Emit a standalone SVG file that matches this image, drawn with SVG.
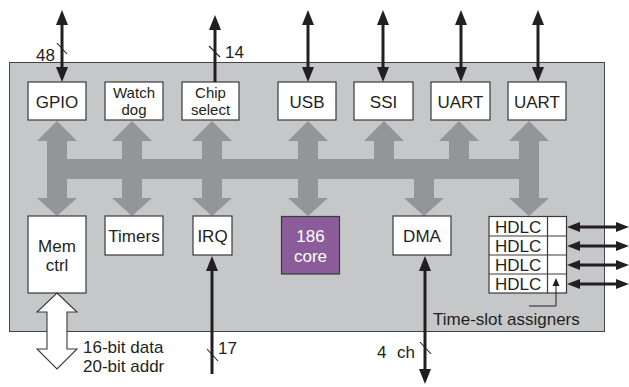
<svg xmlns="http://www.w3.org/2000/svg" xmlns:xlink="http://www.w3.org/1999/xlink" width="629" height="387" viewBox="0 0 629 387">
<style>
text{font-family:"Liberation Sans",Arial,sans-serif;font-size:17px;fill:#231f20}
.c{text-anchor:middle}
.t2{font-size:15px}
.box{fill:#fff;stroke:#3a3a3a;stroke-width:1.2}
.bus{fill:#949599}
.w{stroke:#231f20;stroke-width:3;fill:none}
.wh{stroke:#231f20;stroke-width:3;fill:none}
.tick{stroke:#231f20;stroke-width:1.1}
.core{fill:#8a5c9a;stroke:#3a3a3a;stroke-width:1.2}
</style>
<defs>
<marker id="ah" markerUnits="userSpaceOnUse" markerWidth="16" markerHeight="14" viewBox="0 0 16 14" refX="5" refY="6" orient="auto-start-reverse"><path d="M0,0 L15,6 L0,12 z" fill="#231f20"/></marker>
<marker id="ahs" markerUnits="userSpaceOnUse" markerWidth="14" markerHeight="12" viewBox="0 0 14 12" refX="4" refY="5" orient="auto-start-reverse"><path d="M0,0 L13,5 L0,10 z" fill="#231f20"/></marker>
<path id="up" class="bus" d="M0,121 L20,141 L10,141 L10,160 L-10,160 L-10,141 L-20,141 z"/>
<path id="dn" class="bus" d="M-10,178 L10,178 L10,198 L20,198 L0,216 L-20,198 L-10,198 z"/>
</defs>
<rect x="9.5" y="62.5" width="595" height="269" fill="#c6c7c9" stroke="#444" stroke-width="1"/>
<g id="bus">
<rect class="bus" x="47" y="159" width="492" height="20"/>
<use href="#up" x="57"/><use href="#dn" x="57"/>
<use href="#up" x="132"/><use href="#dn" x="132"/>
<use href="#up" x="212"/><use href="#dn" x="212"/>
<use href="#up" x="308"/><use href="#dn" x="308"/>
<use href="#up" x="384"/>
<use href="#up" x="459"/>
<use href="#dn" x="424"/>
<use href="#up" x="529"/><use href="#dn" x="529"/>
</g>
<g id="gpio"><rect class="box" x="28" y="82" width="58" height="38"/><text class="c" x="57" y="108">GPIO</text></g>
<g id="watchdog"><rect class="box" x="105" y="82" width="58" height="38"/><text class="c t2" x="134" y="98">Watch</text><text class="c t2" x="134" y="115">dog</text></g>
<g id="chipselect"><rect class="box" x="182" y="82" width="57" height="38"/><text class="c t2" x="210.5" y="98">Chip</text><text class="c t2" x="210.5" y="115">select</text></g>
<g id="usb"><rect class="box" x="278" y="82" width="58" height="38"/><text class="c" x="307" y="108">USB</text></g>
<g id="ssi"><rect class="box" x="354" y="82" width="59" height="38"/><text class="c" x="383.5" y="108">SSI</text></g>
<g id="uart1"><rect class="box" x="431" y="82" width="59" height="38"/><text class="c" x="460.5" y="108">UART</text></g>
<g id="uart2"><rect class="box" x="508" y="82" width="58" height="38"/><text class="c" x="537" y="108">UART</text></g>
<g id="memctrl"><rect class="box" x="28" y="216" width="58" height="77"/><text class="c" x="57" y="252">Mem</text><text class="c" x="57" y="271">ctrl</text></g>
<g id="timers"><rect class="box" x="105" y="216" width="58" height="39"/><text class="c" x="134" y="242">Timers</text></g>
<g id="irq"><rect class="box" x="193" y="216" width="39" height="39"/><text class="c" x="212.5" y="242">IRQ</text></g>
<g id="core186"><rect class="core" x="281.5" y="216.5" width="58" height="57.5"/><text class="c" x="310.5" y="242" style="fill:#fff">186</text><text class="c" x="310.5" y="262" style="fill:#fff">core</text></g>
<g id="dma"><rect class="box" x="393" y="216" width="58" height="39"/><text class="c" x="422" y="242">DMA</text></g>
<g id="hdlc">
<rect class="box" x="489" y="216.5" width="77.5" height="76.5"/>
<path d="M489,236 H566.5 M489,255 H566.5 M489,274 H566.5 M547.5,216.5 V293" stroke="#3a3a3a" stroke-width="1.2"/>
<text x="495" y="233">HDLC</text>
<text x="495" y="252">HDLC</text>
<text x="495" y="271">HDLC</text>
<text x="495" y="290">HDLC</text>
</g>
<g id="connectors">
<line class="w" x1="62" y1="20" x2="62" y2="72" marker-start="url(#ah)" marker-end="url(#ah)"/>
<line class="w" x1="215" y1="82" x2="215" y2="25" marker-end="url(#ah)"/>
<line class="w" x1="308" y1="20" x2="308" y2="72" marker-start="url(#ah)" marker-end="url(#ah)"/>
<line class="w" x1="383" y1="20" x2="383" y2="72" marker-start="url(#ah)" marker-end="url(#ah)"/>
<line class="w" x1="461" y1="20" x2="461" y2="72" marker-start="url(#ah)" marker-end="url(#ah)"/>
<line class="w" x1="538" y1="20" x2="538" y2="72" marker-start="url(#ah)" marker-end="url(#ah)"/>
<line class="w" x1="212" y1="374" x2="212" y2="266" marker-end="url(#ah)"/>
<line class="w" x1="425" y1="266" x2="425" y2="374" marker-start="url(#ah)" marker-end="url(#ah)"/>
<line class="wh" x1="576" y1="227" x2="620" y2="227" marker-start="url(#ahs)" marker-end="url(#ahs)"/>
<line class="wh" x1="576" y1="246" x2="620" y2="246" marker-start="url(#ahs)" marker-end="url(#ahs)"/>
<line class="wh" x1="576" y1="265" x2="620" y2="265" marker-start="url(#ahs)" marker-end="url(#ahs)"/>
<line class="wh" x1="576" y1="284" x2="620" y2="284" marker-start="url(#ahs)" marker-end="url(#ahs)"/>
<path d="M57,293 L77,312 L67,312 L67,349 L77,349 L57,369 L37,349 L47,349 L47,312 L37,312 z" fill="#fff" stroke="#3a3a3a" stroke-width="1.1"/>
<line class="tick" x1="57" y1="43" x2="67" y2="54"/>
<line class="tick" x1="209" y1="46" x2="220" y2="57"/>
<line class="tick" x1="207" y1="349" x2="218" y2="361"/>
<line class="tick" x1="420" y1="342" x2="431" y2="354"/>
<polyline points="529,306 556,306 556,285" fill="none" stroke="#231f20" stroke-width="1"/>
<polygon points="556,278 552.5,286 559.5,286" fill="#231f20"/>
</g>
<g id="labels">
<text x="36" y="61">48</text>
<text x="225" y="58">14</text>
<text x="218" y="354">17</text>
<text x="377" y="358">4<tspan x="397">ch</tspan></text>
<text x="83" y="353">16-bit data</text>
<text x="83" y="372">20-bit addr</text>
<text x="433" y="325">Time-slot assigners</text>
</g>
</svg>
